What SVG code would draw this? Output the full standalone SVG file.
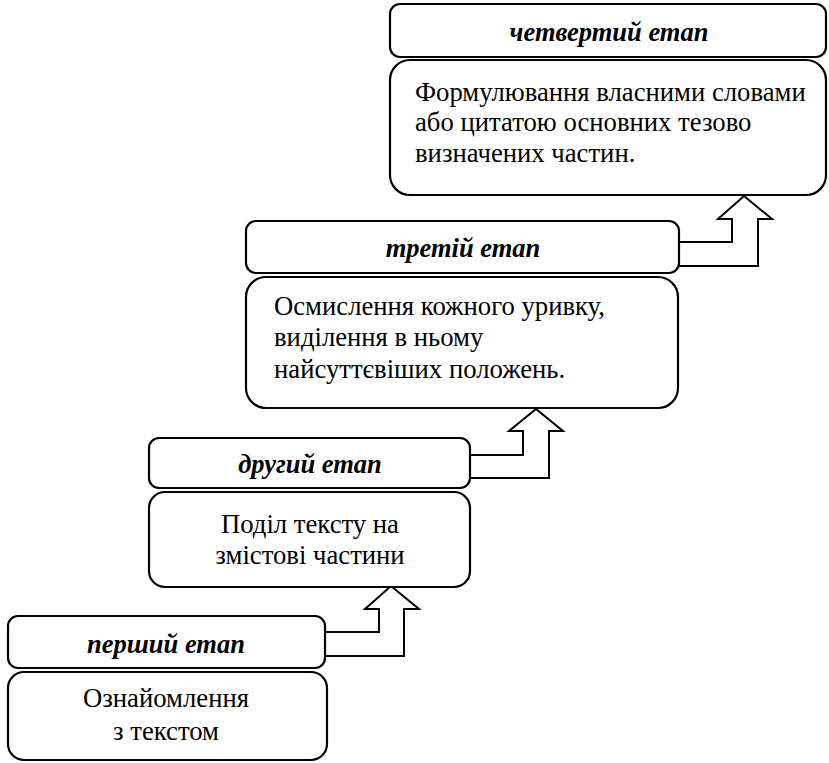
<svg xmlns="http://www.w3.org/2000/svg" width="829" height="763" viewBox="0 0 829 763">
<style>
.box{fill:#fff;stroke:#000;stroke-width:2.2}
.arr{fill:#fff;stroke:#000;stroke-width:2}
.hd{font-family:"Liberation Serif","Times New Roman",serif;font-size:26.5px;font-weight:bold;font-style:italic;text-anchor:middle;fill:#000}
.bd{font-family:"Liberation Serif","Times New Roman",serif;font-size:26.7px;fill:#000}
.c{text-anchor:middle}
</style>
<rect width="829" height="763" fill="#fff"/>
<g id="connectors">
<path class="arr" d="M325,632 H379 V609 H365 L391,586 L419,609 H404 V656 H325"/>
<path class="arr" d="M470,455 H523 V431 H509 L536,409 L563,431 H549 V478 H470"/>
<path class="arr" d="M679,242 H732 V219 H718 L744,196 L772,219 H758 V266 H679"/>
</g>
<g id="stage1">
<rect class="box" x="8" y="616" width="317" height="52" rx="10"/>
<text class="hd" x="166" y="653">перший етап</text>
<rect class="box" x="8" y="672" width="319" height="88" rx="16"/>
<text class="bd c" x="166" y="707">Ознайомлення</text>
<text class="bd c" x="166" y="740">з текстом</text>
</g>
<g id="stage2">
<rect class="box" x="149" y="438" width="321" height="50" rx="10"/>
<text class="hd" x="310" y="473">другий етап</text>
<rect class="box" x="149" y="492" width="321" height="95" rx="16"/>
<text class="bd c" x="310" y="533">Поділ тексту на</text>
<text class="bd c" x="310" y="564">змістові частини</text>
</g>
<g id="stage3">
<rect class="box" x="246" y="221" width="433" height="52" rx="10"/>
<text class="hd" x="463" y="257">третій етап</text>
<rect class="box" x="246" y="277" width="432" height="131" rx="20"/>
<text class="bd" x="274" y="315">Осмислення кожного уривку,</text>
<text class="bd" x="274" y="346">виділення в ньому</text>
<text class="bd" x="274" y="378">найсуттєвіших положень.</text>
</g>
<g id="stage4">
<rect class="box" x="390" y="4" width="436" height="53" rx="10"/>
<text class="hd" x="609" y="41">четвертий етап</text>
<rect class="box" x="390" y="60" width="436" height="135" rx="20"/>
<text class="bd" x="415" y="101">Формулювання власними словами</text>
<text class="bd" x="415" y="131">або цитатою основних тезово</text>
<text class="bd" x="415" y="162">визначених частин.</text>
</g>
</svg>
